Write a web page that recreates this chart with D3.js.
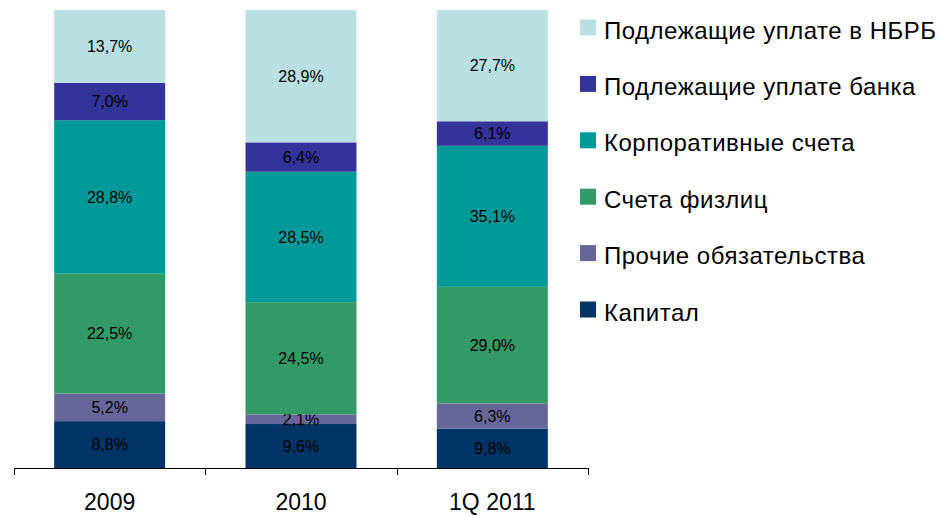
<!DOCTYPE html>
<html>
<head>
<meta charset="utf-8">
<script src="https://cdn.jsdelivr.net/npm/d3@7"></script>
<style>
  body { margin: 0; background: #fff; }
  text { font-family: "Liberation Sans", Arial, sans-serif; fill: #000; }
</style>
</head>
<body>
<svg id="chart" width="940" height="516"></svg>
<script>
"use strict";

// категории (столбцы)
var categories = ["2009", "2010", "1Q 2011"];

// серии снизу вверх
var seriesNames = ["Капитал", "Прочие обязательства", "Счета физлиц",
  "Корпоративные счета", "Подлежащие уплате банка", "Подлежащие уплате в НБРБ"];
var seriesColors = ["#003366", "#666699", "#339966", "#009999", "#333399", "#bbe0e3"];

var kapital     = [8.8, 9.6, 9.8];
var prochie     = [5.2, 2.1, 6.3];
var fizlic      = [22.5, 24.5, 29.0];
var korporat    = [28.8, 28.5, 35.1];
var uplataBanka = [7.0, 6.4, 6.1];
var uplataNbrb  = [13.7, 28.9, 27.7];

var seriesValues = [kapital, prochie, fizlic, korporat, uplataBanka, uplataNbrb];

var rows = categories.map(function(c, i) {
  var r = { cat: c };
  seriesNames.forEach(function(s, j) { r[s] = seriesValues[j][i]; });
  return r;
});

var svg = d3.select("#chart");

var x = d3.scaleBand()
  .domain(categories)
  .range([14, 588])
  .paddingInner(0.42)
  .paddingOuter(0.21);

var y = d3.scaleLinear()
  .domain([0, 1])
  .range([468, 10]);

// каждый столбец растянут до 100%
var stack = d3.stack()
  .keys(seriesNames)
  .offset(d3.stackOffsetExpand);
var layers = stack(rows);

var fmt = function(v) { return v.toFixed(1).replace(".", ",") + "%"; };

var layer = svg.selectAll("g.layer")
  .data(layers)
  .enter()
  .append("g")
  .attr("class", "layer")
  .attr("fill", function(d, i) { return seriesColors[i]; });

layer.selectAll("rect")
  .data(function(d) { return d; })
  .enter()
  .append("rect")
  .attr("x", function(d) { return x(d.data.cat); })
  .attr("width", x.bandwidth())
  .attr("y", function(d) { return y(d[1]); })
  .attr("height", function(d) { return y(d[0]) - y(d[1]); });

layer.selectAll("text")
  .data(function(d) {
    return d.map(function(p) { return { p: p, key: d.key }; });
  })
  .enter()
  .append("text")
  .attr("x", function(d) { return x(d.p.data.cat) + x.bandwidth() / 2; })
  .attr("y", function(d) { return (y(d.p[0]) + y(d.p[1])) / 2; })
  .attr("dy", "0.36em")
  .attr("text-anchor", "middle")
  .style("font-size", "16px")
  .text(function(d) { return fmt(d.p.data[d.key]); });

// ось X
var axis = svg.append("g").attr("class", "axis");
axis.append("line")
  .attr("x1", 14).attr("x2", 588)
  .attr("y1", 468.5).attr("y2", 468.5)
  .attr("stroke", "#000");

var tickPos = categories.map(function(c) { return x(c) - x.step() * x.paddingInner() / 2; });
tickPos.push(588);
axis.selectAll("line.tick")
  .data(tickPos)
  .enter()
  .append("line")
  .attr("class", "tick")
  .attr("x1", function(d) { return Math.round(d) + 0.5; })
  .attr("x2", function(d) { return Math.round(d) + 0.5; })
  .attr("y1", 468).attr("y2", 475)
  .attr("stroke", "#000");

axis.selectAll("text")
  .data(categories)
  .enter()
  .append("text")
  .attr("x", function(d) { return x(d) + x.bandwidth() / 2; })
  .attr("y", 510)
  .attr("text-anchor", "middle")
  .style("font-size", "23px")
  .text(function(d) { return d; });

// легенда, сверху вниз
var legendOrder = seriesNames.slice().reverse();
var legend = svg.append("g").attr("class", "legend");
var item = legend.selectAll("g")
  .data(legendOrder)
  .enter()
  .append("g")
  .attr("transform", function(d, i) {
    return "translate(" + 580 + "," + (19.5 + i * 56.4) + ")";
  });

item.append("rect")
  .attr("width", 16)
  .attr("height", 16)
  .attr("fill", function(d) { return seriesColors[seriesNames.indexOf(d)]; });

item.append("text")
  .attr("x", 24)
  .attr("y", 19)
  .style("font-size", "24px")
  .style("letter-spacing", "0.5px")
  .text(function(d) { return d; });
</script>
</body>
</html>
